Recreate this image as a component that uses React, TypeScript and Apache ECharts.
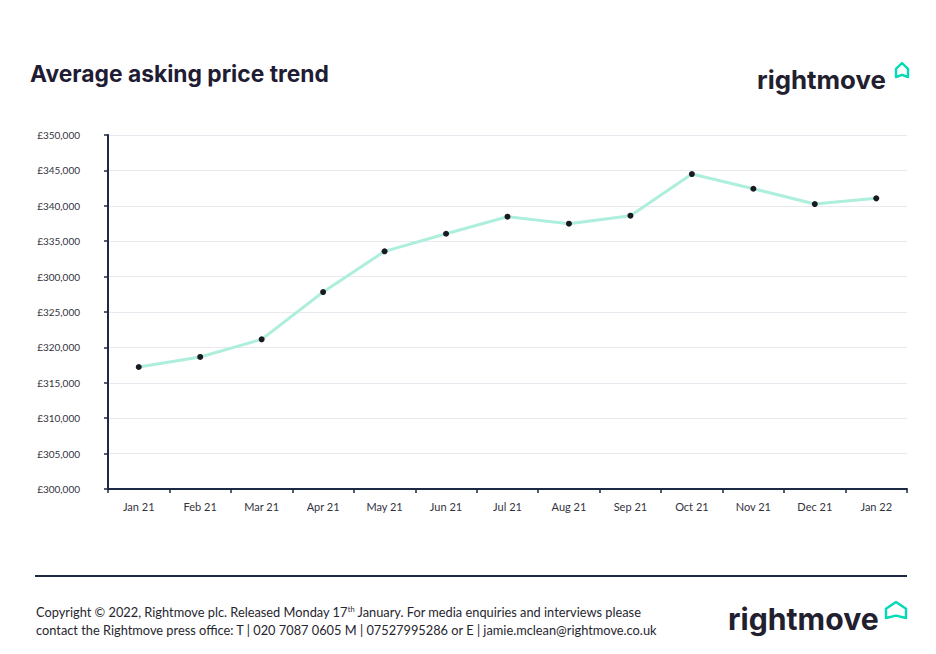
import React, { useEffect, useRef } from "react";
import * as echarts from "echarts";

const months = ["Jan 21", "Feb 21", "Mar 21", "Apr 21", "May 21", "Jun 21", "Jul 21", "Aug 21", "Sep 21", "Oct 21", "Nov 21", "Dec 21", "Jan 22"];
const askingPrice = [317230, 318650, 321140, 327820, 333570, 336050, 338460, 337470, 338600, 344480, 342410, 340250, 341050];
const yTickLabels = ["£300,000", "£305,000", "£310,000", "£315,000", "£320,000", "£325,000", "£300,000", "£335,000", "£340,000", "£345,000", "£350,000"];

const NAVY = "#1d2a44";
const DARK = "#1f1d33";
const GREEN = "#00dbb5";
const FONT = "Lato, 'Noto Sans', sans-serif";
const HEAD = "Inter, 'Noto Sans', sans-serif";

function house(x: number, y: number, w: number, h: number) {
  return {
    type: "polygon",
    shape: {
      points: [
        [x, y + h],
        [x, y + h * 0.42],
        [x + w / 2, y],
        [x + w, y + h * 0.42],
        [x + w, y + h],
        [x + w / 2, y + h * 0.85],
      ],
    },
    style: { fill: "none", stroke: GREEN, lineWidth: 2.4, lineJoin: "round" },
  };
}

export default function App() {
  const ref = useRef<HTMLDivElement>(null);
  useEffect(() => {
    const chart = echarts.init(ref.current!, undefined, { renderer: "svg" });
    chart.setOption({
      animation: false,
      backgroundColor: "#ffffff",
      grid: { left: 108, right: 29, top: 135, bottom: 165, containLabel: false },
      xAxis: {
        type: "category",
        data: months,
        boundaryGap: true,
        axisLine: { show: true, lineStyle: { color: NAVY, width: 2 } },
        axisTick: { show: true, length: 4, lineStyle: { color: NAVY, width: 1.5 } },
        axisLabel: { color: "#333340", fontSize: 11, fontFamily: FONT, margin: 12 },
        splitLine: { show: false },
      },
      yAxis: {
        type: "value",
        min: 300000,
        max: 350000,
        interval: 5000,
        axisLine: { show: true, lineStyle: { color: NAVY, width: 2 } },
        axisTick: { show: true, length: 4, lineStyle: { color: NAVY, width: 1.5 } },
        axisLabel: {
          color: "#333340",
          fontSize: 10,
          fontFamily: FONT,
          margin: 28,
          formatter: (_v: number, i: number) => yTickLabels[i],
        },
        splitLine: { show: true, lineStyle: { color: "#e9e9ef", width: 1 } },
      },
      series: [
        {
          type: "line",
          data: askingPrice,
          symbol: "circle",
          symbolSize: 6,
          lineStyle: { color: "#aeeedc", width: 3 },
          itemStyle: { color: "#1a1a22" },
        },
      ],
      graphic: [
        {
          type: "text",
          x: 30,
          y: 85,
          style: { text: "Average asking price trend", font: `bold 22.8px ${HEAD}`, fill: DARK, textVerticalAlign: "bottom" },
        },
        {
          type: "text",
          x: 757,
          y: 92,
          style: { text: "rightmove", font: `bold 25.8px ${HEAD}`, fill: "#22202e", textVerticalAlign: "bottom" },
        },
        house(896, 63, 12, 14),
        {
          type: "line",
          shape: { x1: 35, y1: 576, x2: 907, y2: 576 },
          style: { stroke: NAVY, lineWidth: 2 },
        },
        {
          type: "text",
          x: 36,
          y: 605,
          style: {
            text: "Copyright © 2022, Rightmove plc. Released Monday 17{sup|th} January. For media enquiries and interviews please",
            font: `12.8px ${FONT}`,
            fill: "#26262e",
            rich: { sup: { fontSize: 7.5, fontFamily: FONT, verticalAlign: "top", fill: "#26262e", padding: [0, 0, 6, 0] } },
          },
        },
        {
          type: "text",
          x: 36,
          y: 623,
          style: {
            text: "contact the Rightmove press office: T | 020 7087 0605 M | 07527995286 or E | jamie.mclean@rightmove.co.uk",
            font: `12.8px ${FONT}`,
            fill: "#26262e",
          },
        },
        {
          type: "text",
          x: 728,
          y: 634,
          style: { text: "rightmove", font: `bold 30.2px ${HEAD}`, fill: "#22202e", textVerticalAlign: "bottom" },
        },
        house(886, 602, 20, 16),
      ],
    });
    return () => chart.dispose();
  }, []);
  return <div ref={ref} style={{ width: 936, height: 654, position: "absolute", left: 0, top: 0 }} />;
}
